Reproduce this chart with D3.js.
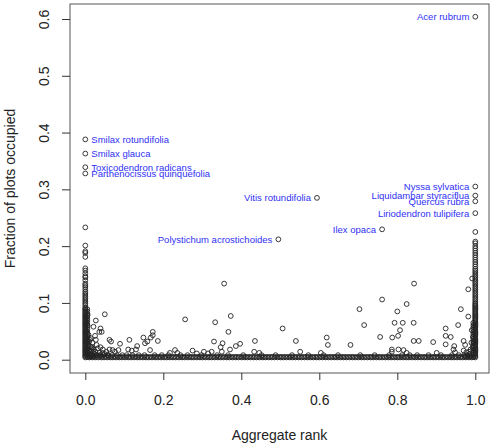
<!DOCTYPE html>
<html>
<head>
<meta charset="utf-8">
<script src="https://cdn.jsdelivr.net/npm/d3@7"></script>
<style>
body { margin: 0; background: #fff; }
text { font-family: "Liberation Sans", Arial, sans-serif; }
</style>
</head>
<body>
<div id="chart"></div>
<script>
// Labelled species (aggregate rank, fraction of plots occupied)
const speciesNames = ["Acer rubrum", "Nyssa sylvatica", "Liquidambar styraciflua", "Quercus rubra",
    "Liriodendron tulipifera", "Ilex opaca", "Vitis rotundifolia", "Polystichum acrostichoides",
    "Smilax rotundifolia", "Smilax glauca", "Toxicodendron radicans", "Parthenocissus quinquefolia"];
const speciesRank = [1.0, 1.0, 1.0, 1.0, 1.0, 0.761, 0.594, 0.495, 0.0, 0.0, 0.0, 0.0];
const speciesFrac = [0.604, 0.305, 0.289, 0.279, 0.258, 0.2296, 0.285, 0.212, 0.388, 0.363, 0.339, 0.328];

// Species stacked at rank 0
const leftColFrac = [0.004, 0.006, 0.008, 0.010, 0.012, 0.014, 0.016, 0.018, 0.020, 0.022, 0.024, 0.026,
    0.028, 0.030, 0.032, 0.034, 0.036, 0.038, 0.040, 0.042, 0.044, 0.046, 0.048, 0.050, 0.052, 0.054,
    0.056, 0.058, 0.060, 0.062, 0.064, 0.066, 0.068, 0.070, 0.072, 0.074, 0.076, 0.078, 0.080, 0.082,
    0.084, 0.086, 0.088, 0.090, 0.092, 0.096, 0.099, 0.102, 0.105, 0.108, 0.111, 0.114, 0.117, 0.120,
    0.124, 0.128, 0.131, 0.134, 0.140, 0.145, 0.147, 0.152, 0.157, 0.161, 0.181, 0.188, 0.191, 0.201, 0.233];
// just right of rank 0
const leftCol2Frac = [0.005, 0.009, 0.013, 0.017, 0.021, 0.025, 0.029, 0.033, 0.037, 0.041, 0.045, 0.049,
    0.053, 0.057, 0.061, 0.065, 0.069, 0.073, 0.077, 0.081, 0.085, 0.089];

// Species stacked at rank 1
const rightColFrac = [0.004, 0.006, 0.008, 0.010, 0.012, 0.014, 0.016, 0.018, 0.020, 0.022, 0.024, 0.026,
    0.028, 0.030, 0.032, 0.034, 0.036, 0.038, 0.040, 0.042, 0.044, 0.046, 0.048, 0.050, 0.052, 0.054,
    0.056, 0.058, 0.060, 0.062, 0.064, 0.066, 0.068, 0.070, 0.072, 0.074, 0.076, 0.078, 0.080, 0.082,
    0.084, 0.086, 0.088, 0.090, 0.092, 0.094, 0.096, 0.098, 0.100, 0.103, 0.106, 0.109, 0.112, 0.115,
    0.118, 0.121, 0.124, 0.127, 0.130, 0.133, 0.136, 0.139, 0.142, 0.145, 0.148, 0.151, 0.154, 0.157,
    0.160, 0.164, 0.168, 0.172, 0.176, 0.180, 0.184, 0.188, 0.192, 0.196, 0.200, 0.205, 0.208, 0.225];
// just left of rank 1
const rightCol2Frac = [0.005, 0.009, 0.013, 0.017, 0.021, 0.025, 0.029, 0.033, 0.037, 0.041, 0.045,
    0.049, 0.053, 0.057, 0.061, 0.065];

// Rare species along the bottom (fraction about 0.004)
const baseRanks = [0.010, 0.018, 0.025, 0.033, 0.041, 0.048, 0.056, 0.064, 0.071, 0.079, 0.087, 0.094,
    0.102, 0.110, 0.117, 0.125, 0.133, 0.140, 0.148, 0.156, 0.163, 0.171, 0.179, 0.186, 0.194, 0.202,
    0.209, 0.217, 0.225, 0.232, 0.240, 0.248, 0.255, 0.263, 0.271, 0.278, 0.286, 0.294, 0.301, 0.309,
    0.317, 0.324, 0.332, 0.340, 0.347, 0.355, 0.363, 0.370, 0.378, 0.386, 0.393, 0.401, 0.409, 0.416,
    0.424, 0.432, 0.439, 0.447, 0.455, 0.462, 0.470, 0.478, 0.485, 0.493, 0.501, 0.508, 0.516, 0.524,
    0.531, 0.539, 0.547, 0.554, 0.562, 0.570, 0.577, 0.585, 0.593, 0.600, 0.608, 0.616, 0.623, 0.631,
    0.639, 0.646, 0.654, 0.662, 0.669, 0.677, 0.685, 0.692, 0.700, 0.708, 0.715, 0.723, 0.731, 0.738,
    0.746, 0.754, 0.761, 0.769, 0.777, 0.784, 0.792, 0.800, 0.807, 0.815, 0.823, 0.830, 0.838, 0.846,
    0.853, 0.861, 0.869, 0.876, 0.884, 0.892, 0.899, 0.907, 0.915, 0.922, 0.930, 0.938, 0.945, 0.953,
    0.961, 0.968, 0.976, 0.984, 0.991];
const baseRanks2 = [0.006, 0.014, 0.021, 0.029, 0.037, 0.044, 0.052, 0.060, 0.067, 0.075, 0.083, 0.090,
    0.098, 0.106, 0.113, 0.121, 0.129, 0.136, 0.144, 0.152, 0.159, 0.167, 0.175, 0.182, 0.190, 0.198,
    0.205, 0.213, 0.221, 0.228, 0.236, 0.244, 0.251, 0.259, 0.267, 0.274, 0.282, 0.290, 0.297, 0.305,
    0.313, 0.320, 0.328, 0.336, 0.343, 0.351, 0.359, 0.366, 0.374, 0.382, 0.389, 0.397, 0.405, 0.412,
    0.420, 0.428, 0.435, 0.443, 0.451, 0.458, 0.466, 0.474, 0.481, 0.489, 0.497, 0.504, 0.512, 0.520,
    0.527, 0.535, 0.543, 0.550, 0.558, 0.566, 0.573, 0.581, 0.589, 0.596, 0.604, 0.612, 0.619, 0.627,
    0.635, 0.642, 0.650, 0.658, 0.665, 0.673, 0.681, 0.688, 0.696, 0.704, 0.711, 0.719, 0.727, 0.734,
    0.742, 0.750, 0.757, 0.765, 0.773, 0.780, 0.788, 0.796, 0.803, 0.811, 0.819, 0.826, 0.834, 0.842,
    0.849, 0.857, 0.865, 0.872, 0.880, 0.888, 0.895, 0.903, 0.911, 0.918, 0.926, 0.934, 0.941, 0.949,
    0.957, 0.964, 0.972, 0.980, 0.987, 0.995];
// a sparser row just above (fraction about 0.008)
const secondRanks = [0.014, 0.022, 0.030, 0.038, 0.047, 0.058, 0.069, 0.081, 0.095, 0.106, 0.121, 0.137,
    0.152, 0.178, 0.196, 0.213, 0.244, 0.262, 0.298, 0.338, 0.366, 0.405, 0.452, 0.488, 0.530, 0.572,
    0.611, 0.648, 0.705, 0.742, 0.779, 0.812, 0.851, 0.880, 0.912, 0.940, 0.958, 0.972, 0.987];

// Other species scattered above the bottom [rank, fraction]
const scatterPts = [
    [0.006, 0.079], [0.050, 0.080], [0.027, 0.069], [0.021, 0.058], [0.039, 0.055], [0.042, 0.049],
    [0.036, 0.049], [0.025, 0.042], [0.012, 0.035], [0.027, 0.035], [0.062, 0.035], [0.066, 0.032],
    [0.029, 0.026], [0.039, 0.022], [0.045, 0.018], [0.089, 0.028], [0.062, 0.018], [0.070, 0.017],
    [0.076, 0.014], [0.085, 0.017], [0.113, 0.035], [0.110, 0.018], [0.119, 0.016], [0.130, 0.018],
    [0.133, 0.024], [0.149, 0.039], [0.159, 0.032], [0.153, 0.029], [0.168, 0.039], [0.173, 0.049],
    [0.173, 0.043], [0.186, 0.033], [0.166, 0.017], [0.217, 0.012], [0.230, 0.017], [0.236, 0.012],
    [0.256, 0.071], [0.275, 0.016], [0.286, 0.011], [0.304, 0.014], [0.315, 0.011], [0.324, 0.014],
    [0.333, 0.066], [0.330, 0.032], [0.356, 0.134], [0.373, 0.077], [0.367, 0.049], [0.352, 0.029],
    [0.347, 0.022], [0.350, 0.014], [0.371, 0.018], [0.386, 0.024], [0.397, 0.028], [0.435, 0.033],
    [0.433, 0.014], [0.446, 0.012], [0.506, 0.055], [0.540, 0.033], [0.551, 0.014], [0.604, 0.012],
    [0.619, 0.039], [0.622, 0.026], [0.680, 0.026], [0.703, 0.089], [0.715, 0.061], [0.761, 0.106],
    [0.756, 0.040], [0.787, 0.039], [0.793, 0.065], [0.800, 0.085], [0.802, 0.042], [0.807, 0.052],
    [0.814, 0.065], [0.824, 0.098], [0.843, 0.134], [0.842, 0.065], [0.842, 0.033], [0.855, 0.033],
    [0.786, 0.018], [0.786, 0.014], [0.803, 0.018], [0.816, 0.017], [0.824, 0.012], [0.832, 0.008],
    [0.892, 0.031], [0.901, 0.012], [0.924, 0.055], [0.937, 0.040], [0.924, 0.042], [0.924, 0.027],
    [0.946, 0.024], [0.944, 0.018], [0.948, 0.013], [0.956, 0.061], [0.963, 0.089], [0.970, 0.033],
    [0.974, 0.026], [0.982, 0.124], [0.982, 0.076], [0.991, 0.052], [0.992, 0.143], [0.970, 0.016],
    [0.977, 0.013], [0.985, 0.010], [0.988, 0.018], [0.993, 0.022], [0.996, 0.030],
    [0.988, 0.006], [0.984, 0.014], [0.980, 0.008], [0.975, 0.006], [0.990, 0.030], [0.994, 0.040],
    [0.004, 0.010], [0.008, 0.012], [0.006, 0.020], [0.010, 0.016], [0.014, 0.010], [0.004, 0.030],
    [0.008, 0.026], [0.016, 0.022], [0.020, 0.014], [0.012, 0.024], [0.005, 0.040], [0.010, 0.032],
    [0.018, 0.030], [0.024, 0.010], [0.003, 0.050], [0.006, 0.060], [0.004, 0.070],
    [0.012, 0.006], [0.016, 0.008], [0.020, 0.006], [0.022, 0.018], [0.026, 0.014], [0.030, 0.008],
    [0.014, 0.016], [0.018, 0.020], [0.008, 0.044], [0.014, 0.038], [0.032, 0.020], [0.036, 0.012],
    [0.040, 0.008], [0.044, 0.012], [0.050, 0.010], [0.054, 0.014], [0.058, 0.008]
];

const xTicks = [0, 0.2, 0.4, 0.6, 0.8, 1.0];
const yTicks = [0, 0.1, 0.2, 0.3, 0.4, 0.5, 0.6];

// Kích thước
const width = 494;
const height = 444;
const box = { left: 70, right: 489, top: 4, bottom: 373 };

const svg = d3.select("#chart")
    .append("svg")
    .attr("width", width)
    .attr("height", height)
    .style("background", "#fff");

const x = d3.scaleLinear().domain([0, 1]).range([85.3, 475.3]);
const y = d3.scaleLinear().domain([0, 0.6]).range([359.7, 19]);

// Khung
svg.append("rect")
    .attr("x", box.left)
    .attr("y", box.top)
    .attr("width", box.right - box.left)
    .attr("height", box.bottom - box.top)
    .attr("fill", "none")
    .attr("stroke", "#555")
    .attr("stroke-width", 1);

// Trục X
const gx = svg.append("g")
    .attr("transform", `translate(0,${box.bottom})`)
    .call(d3.axisBottom(x).tickValues(xTicks).tickSize(7).tickPadding(15).tickFormat(d3.format(".1f")));
gx.select(".domain").remove();
gx.selectAll("line").attr("stroke", "#333");
gx.selectAll("text").style("font-size", "14px").attr("fill", "#222")
    .style("font-family", "'Liberation Sans', Arial, sans-serif");

// Trục Y
const gy = svg.append("g")
    .attr("transform", `translate(${box.left},0)`)
    .call(d3.axisLeft(y).tickValues(yTicks).tickSize(8).tickFormat(d3.format(".1f")));
gy.select(".domain").remove();
gy.selectAll("line").attr("stroke", "#333");
gy.selectAll("text")
    .attr("x", null)
    .attr("dy", null)
    .attr("text-anchor", "middle")
    .attr("transform", "translate(-21,0) rotate(-90)")
    .attr("fill", "#222")
    .style("font-size", "14px")
    .style("font-family", "'Liberation Sans', Arial, sans-serif");

// Tiêu đề trục
svg.append("text")
    .attr("x", (box.left + box.right) / 2)
    .attr("y", 440)
    .attr("text-anchor", "middle")
    .style("font-size", "14px")
    .attr("fill", "#222")
    .text("Aggregate rank");

svg.append("text")
    .attr("transform", `translate(15,${(box.top + box.bottom) / 2}) rotate(-90)`)
    .attr("text-anchor", "middle")
    .style("font-size", "14px")
    .attr("fill", "#222")
    .text("Fraction of plots occupied");

// Gom tất cả các điểm
const points = [];
leftColFrac.forEach(f => points.push([0, f]));
leftCol2Frac.forEach(f => points.push([0.005, f]));
rightColFrac.forEach(f => points.push([1, f]));
rightCol2Frac.forEach(f => points.push([0.995, f]));
baseRanks.forEach(r => points.push([r, 0.004]));
baseRanks2.forEach(r => points.push([r, 0.005]));
secondRanks.forEach(r => points.push([r, 0.008]));
scatterPts.forEach(p => points.push(p));
speciesRank.forEach((r, i) => points.push([r, speciesFrac[i]]));

svg.append("g")
    .selectAll("circle")
    .data(points)
    .enter()
    .append("circle")
    .attr("cx", d => x(d[0]))
    .attr("cy", d => y(d[1]))
    .attr("r", 2.4)
    .attr("fill", "none")
    .attr("stroke", "#222")
    .attr("stroke-width", 0.9);

// Nhãn tên loài
svg.append("g")
    .selectAll("text")
    .data(speciesNames)
    .enter()
    .append("text")
    .attr("x", (d, i) => speciesRank[i] === 0 ? x(speciesRank[i]) + 6 : x(speciesRank[i]) - 6)
    .attr("y", (d, i) => y(speciesFrac[i]))
    .attr("dy", "0.35em")
    .attr("text-anchor", (d, i) => speciesRank[i] === 0 ? "start" : "end")
    .style("font-size", "9.5px")
    .attr("fill", "#3030f5")
    .text(d => d);
</script>
</body>
</html>
